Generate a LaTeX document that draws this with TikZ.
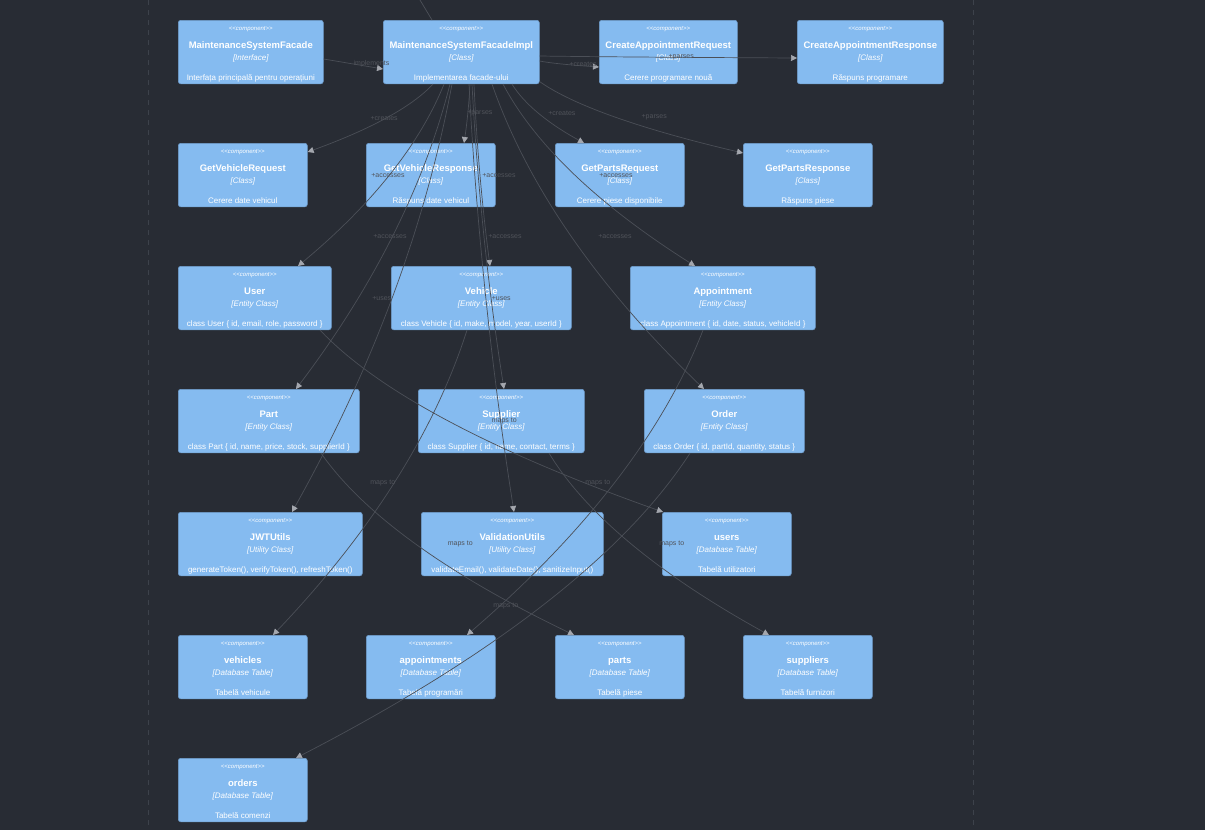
\documentclass[tikz,border=0pt]{standalone}
\usepackage{fontspec}
\setmainfont{Liberation Sans}
\usetikzlibrary{arrows.meta,calc}

\definecolor{canvas}{HTML}{282C34}
\definecolor{compfill}{HTML}{85BBF0}
\definecolor{compdraw}{HTML}{6F9CCB}
\definecolor{relline}{HTML}{4B4F57}
\definecolor{reltext}{HTML}{50535A}
\definecolor{tipgray}{HTML}{A4A7AE}
\definecolor{fence}{HTML}{3D424B}

% one component box: id, left, top, width, name, kind, description
\newcommand{\umlbox}[7]{%
  \node[comp, minimum width=#4pt] (#1) at (#2,#3) {};
  \node[cstereo] (#1-st) at ([yshift=-10.5pt]#1.north) {<\kern0pt<component>\kern0pt>};
  \node[cname] (#1-nm) at ([yshift=-28pt]#1.north) {#5};
  \node[ckind] (#1-kd) at ([yshift=-40.5pt]#1.north) {[#6]};
  \node[cdesc] (#1-ds) at ([yshift=-60.5pt]#1.north) {#7};
}

\begin{document}
\begin{tikzpicture}[
x=1pt, y=-1pt,
comp/.style={
rectangle, draw=compdraw, fill=compfill,
rounded corners=2.5pt, line width=0.6pt,
anchor=north west, inner sep=0pt,
minimum height=63.5pt
},
ctext/.style={anchor=base, inner sep=0pt, text=white},
cstereo/.style={ctext, font=\fontsize{6}{7}\selectfont\itshape},
cname/.style={ctext, font=\fontsize{9.5}{11}\selectfont\bfseries},
ckind/.style={ctext, font=\fontsize{8}{9.5}\selectfont\itshape},
cdesc/.style={ctext, font=\fontsize{8}{9.5}\selectfont},
lbl/.style={anchor=west, inner sep=0pt, text=reltext,
font=\fontsize{7}{8}\selectfont},
plain/.style={draw=relline, line width=0.7pt},
arrow/.style={plain, -{Triangle[length=6pt,width=6pt,color=tipgray]}},
rel/.style 2 args={
to path={
let \p1=(\tikztostart), \p2=(\tikztotarget) in
.. controls ({\x1+(\x2-\x1)/6},{\y1+(\y2-\y1)/3})
and ({(\x1+\x2)/2},{\y2-(\y2-\y1)/3}) .. (\tikztotarget)
node[lbl] (#2) at ({(\x1+\x2)/2},{(\y1+\y2)/2}) {#1}
}
}
]

\fill[canvas] (0,0) rectangle (1205,830);
\useasboundingbox (0,0) rectangle (1205,830);

% container edges
\draw[fence, line width=0.7pt, dash pattern=on 5pt off 5pt] (148,0) -- (148,830);
\draw[fence, line width=0.7pt, dash pattern=on 5pt off 5pt] (973,0) -- (973,830);

% =======================
% FACADE AND DTOs
% =======================

\umlbox{facade}{178}{20}{145}{MaintenanceSystemFacade}{Interface}{Interfața principală pentru operațiuni}
\umlbox{impl}{383}{20}{156}{MaintenanceSystemFacadeImpl}{Class}{Implementarea facade-ului}
\umlbox{careq}{599}{20}{138}{CreateAppointmentRequest}{Class}{Cerere programare nouă}
\umlbox{caresp}{797}{20}{146}{CreateAppointmentResponse}{Class}{Răspuns programare}

\umlbox{gvreq}{178}{143}{129}{GetVehicleRequest}{Class}{Cerere date vehicul}
\umlbox{gvresp}{366}{143}{129}{GetVehicleResponse}{Class}{Răspuns date vehicul}
\umlbox{gpreq}{555}{143}{129}{GetPartsRequest}{Class}{Cerere piese disponibile}
\umlbox{gpresp}{743}{143}{129}{GetPartsResponse}{Class}{Răspuns piese}

% =======================
% ENTITIES AND UTILS
% =======================

\umlbox{user}{178}{266}{153}{User}{Entity Class}{class User \{ id, email, role, password \}}
\umlbox{vehicle}{391}{266}{180}{Vehicle}{Entity Class}{class Vehicle \{ id, make, model, year, userId \}}
\umlbox{appt}{630}{266}{185}{Appointment}{Entity Class}{class Appointment \{ id, date, status, vehicleId \}}

\umlbox{part}{178}{389}{181}{Part}{Entity Class}{class Part \{ id, name, price, stock, supplierId \}}
\umlbox{supplier}{418}{389}{166}{Supplier}{Entity Class}{class Supplier \{ id, name, contact, terms \}}
\umlbox{order}{644}{389}{160}{Order}{Entity Class}{class Order \{ id, partId, quantity, status \}}

\umlbox{jwt}{178}{512}{184}{JWTUtils}{Utility Class}{generateToken(), verifyToken(), refreshToken()}
\umlbox{valid}{421}{512}{182}{ValidationUtils}{Utility Class}{validateEmail(), validateDate(), sanitizeInput()}
\umlbox{tusers}{662}{512}{129}{users}{Database Table}{Tabelă utilizatori}

% =======================
% TABLES
% =======================

\umlbox{tvehicles}{178}{635}{129}{vehicles}{Database Table}{Tabelă vehicule}
\umlbox{tappts}{366}{635}{129}{appointments}{Database Table}{Tabelă programări}
\umlbox{tparts}{555}{635}{129}{parts}{Database Table}{Tabelă piese}
\umlbox{tsuppliers}{743}{635}{129}{suppliers}{Database Table}{Tabelă furnizori}
\umlbox{torders}{178}{758}{129}{orders}{Database Table}{Tabelă comenzi}

% =======================
% RELATIONS
% =======================

\coordinate (upper) at (420,0);
\draw[plain] (upper) -- ([xshift=49pt]impl.north west);

\draw[arrow] ([yshift=-39pt]facade.north east) -- node[lbl] (lbl-impl) {implements} ([yshift=-49pt]impl.north west);

\draw[arrow] ([yshift=-41pt]impl.north east) to[rel={+creates}{lbl-careq}] ([yshift=-47pt]careq.north west);
\draw[arrow] ([yshift=-36pt]impl.north east) to[rel={+parses}{lbl-caresp}] ([yshift=-38pt]caresp.north west);
\draw[arrow] ([xshift=50pt]impl.south west) to[rel={+creates}{lbl-gvreq}] ([yshift=-9pt]gvreq.north east);
\draw[arrow] ([xshift=87pt]impl.south west) to[rel={+parses}{lbl-gvresp}] ([xshift=98pt]gvresp.north west);
\draw[arrow] ([xshift=129pt]impl.south west) to[rel={+creates}{lbl-gpreq}] ([xshift=29pt]gpreq.north west);
\draw[arrow] ([yshift=2.5pt]impl.south east) to[rel={+parses}{lbl-gpresp}] ([yshift=-10pt]gpresp.north west);

\draw[arrow] ([xshift=61pt]impl.south west) to[rel={+accesses}{lbl-user}] ([xshift=120pt]user.north west);
\draw[arrow] ([xshift=91pt]impl.south west) to[rel={+accesses}{lbl-vehicle}] ([xshift=99pt]vehicle.north west);
\draw[arrow] ([xshift=120pt]impl.south west) to[rel={+accesses}{lbl-appt}] ([xshift=65pt]appt.north west);
\draw[arrow] ([xshift=67pt]impl.south west) to[rel={+accesses}{lbl-part}] ([xshift=118pt]part.north west);
\draw[arrow] ([xshift=89pt]impl.south west) to[rel={+accesses}{lbl-supplier}] ([xshift=86pt]supplier.north west);
\draw[arrow] ([xshift=109pt]impl.south west) to[rel={+accesses}{lbl-order}] ([xshift=60pt]order.north west);
\draw[arrow] ([xshift=69pt]impl.south west) to[rel={+uses}{lbl-jwt}] ([xshift=114pt]jwt.north west);
\draw[arrow] ([xshift=86pt]impl.south west) to[rel={+uses}{lbl-valid}] ([xshift=93pt]valid.north west);

\draw[arrow] ([xshift=142pt]user.south west) to[rel={maps to}{lbl-tusers}] ([xshift=1pt]tusers.north west);
\draw[arrow] ([xshift=76pt]vehicle.south west) to[rel={maps to}{lbl-tvehicles}] ([xshift=95pt]tvehicles.north west);
\draw[arrow] ([xshift=73pt]appt.south west) to[rel={maps to}{lbl-tappts}] ([xshift=101pt]tappts.north west);
\draw[arrow] ([xshift=143pt]part.south west) to[rel={maps to}{lbl-tparts}] ([xshift=19pt]tparts.north west);
\draw[arrow] ([xshift=131pt]supplier.south west) to[rel={maps to}{lbl-tsuppliers}] ([xshift=26pt]tsuppliers.north west);
\draw[arrow] ([xshift=46pt]order.south west) to[rel={maps to}{lbl-torders}] ([xshift=118pt]torders.north west);

\end{tikzpicture}
\end{document}
